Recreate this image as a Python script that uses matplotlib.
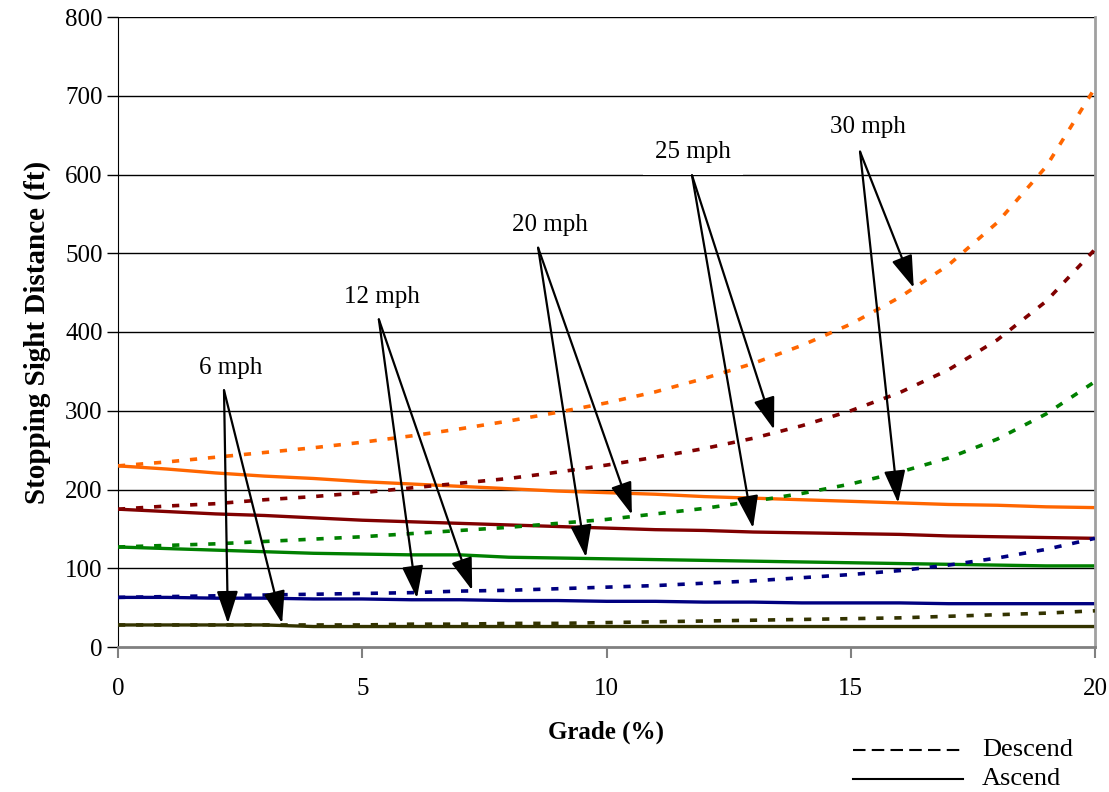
import matplotlib
matplotlib.use('Agg')
import matplotlib.pyplot as plt
from matplotlib.lines import Line2D

plt.rcParams['font.family'] = ['Liberation Serif', 'DejaVu Serif']

# grade (%) and stopping sight distance (ft) for each design speed
grade = list(range(0, 21))

desc_30 = [230, 235, 241, 247, 253, 260, 268, 277, 287, 298, 310, 324, 341, 360, 383, 410, 444, 485, 539, 610, 710]
asc_30 = [230, 226, 221, 217, 214, 210, 207, 204, 201, 198, 196, 194, 191, 189, 187, 185, 183, 181, 180, 178, 177]
desc_25 = [175, 179, 182, 187, 191, 196, 202, 208, 214, 222, 231, 241, 252, 265, 281, 300, 323, 352, 390, 439, 505]
asc_25 = [175, 172, 169, 167, 164, 161, 159, 157, 155, 153, 151, 149, 148, 146, 145, 144, 143, 141, 140, 139, 138]
desc_20 = [127, 129, 131, 134, 137, 140, 144, 148, 152, 157, 162, 169, 176, 185, 195, 207, 222, 240, 264, 296, 337]
asc_20 = [127, 125, 123, 121, 119, 118, 117, 117, 114, 113, 112, 111, 110, 109, 108, 107, 106, 105, 104, 103, 103]
desc_12 = [63, 64, 65, 66, 67, 68, 69, 71, 72, 74, 76, 78, 81, 84, 88, 92, 97, 104, 113, 124, 138]
asc_12 = [63, 63, 62, 62, 61, 61, 60, 60, 59, 59, 58, 58, 57, 57, 56, 56, 56, 55, 55, 55, 55]
desc_6 = [28, 28, 28, 28, 28, 28, 29, 29, 30, 30, 31, 32, 33, 34, 35, 36, 37, 39, 41, 43, 46]
asc_6 = [28, 28, 28, 28, 26, 26, 26, 26, 26, 26, 26, 26, 26, 26, 26, 26, 26, 26, 26, 26, 26]

speeds = ['6 mph', '12 mph', '20 mph', '25 mph', '30 mph']
descend = [desc_6, desc_12, desc_20, desc_25, desc_30]
ascend = [asc_6, asc_12, asc_20, asc_25, asc_30]
colors = ['#333300', '#000080', '#008000', '#800000', '#FF6600']

# label position and the two arrow tips for each speed (data coords)
label_pos = [(2.31, 354), (5.40, 444), (8.84, 536), (11.77, 629), (15.35, 660)]
arrow_start = [(2.17, 326), (5.34, 416), (8.60, 507), (11.75, 599), (15.19, 629)]
arrow_tips = [
    [(2.25, 30), (3.36, 30)],
    [(6.12, 62), (7.25, 72)],
    [(9.58, 114), (10.52, 168)],
    [(13.0, 151), (13.43, 276)],
    [(15.97, 183), (16.29, 456)],
]

fig = plt.figure(figsize=(11.09, 7.92), dpi=100)
ax = fig.add_axes([118 / 1109, 1 - 647 / 792, (1095 - 118) / 1109, (647 - 17) / 792])

for y in range(100, 900, 100):
    ax.axhline(y, color='black', lw=1.0, zorder=1)

for d, a, c in zip(descend, ascend, colors):
    ax.plot(grade, a, color=c, lw=2.4, zorder=2)
for d, a, c in zip(descend, ascend, colors):
    ax.plot(grade, d, color=c, lw=2.6, dashes=(2.0, 3.0), dash_capstyle='butt', zorder=3)

for name, lp, st, tips in zip(speeds, label_pos, arrow_start, arrow_tips):
    ax.text(lp[0], lp[1], name, ha='center', va='center', fontsize=18, zorder=4,
            bbox=dict(boxstyle='square,pad=0.5', fc='white', ec='none'))
    for tip in tips:
        ax.annotate('', xy=tip, xytext=st, zorder=5,
                    arrowprops=dict(arrowstyle='-|>,head_length=1.0,head_width=0.33',
                                    mutation_scale=20, color='black', lw=1.6,
                                    shrinkA=0, shrinkB=0))

ax.set_xlim(0, 20)
ax.set_ylim(0, 800)
ax.set_xticks([0, 5, 10, 15, 20])
ax.set_yticks(range(0, 900, 100))

ax.spines['top'].set_visible(False)
ax.spines['left'].set_color('black')
ax.spines['bottom'].set_color('#808080')
ax.spines['bottom'].set_linewidth(2)
ax.spines['right'].set_color('#a0a0a0')
ax.spines['right'].set_linewidth(2)
ax.tick_params(axis='x', direction='out', length=8, width=1.5, color='#808080', pad=14, labelsize=18)
ax.tick_params(axis='y', direction='out', length=8, width=1, color='black', pad=3, labelsize=18)

ax.set_xlabel('Grade (%)', fontsize=18, fontweight='bold', labelpad=15)
ax.set_ylabel('Stopping Sight Distance (ft)', fontsize=21, fontweight='bold', labelpad=10)

# legend below the plot area
fig.add_artist(Line2D([853 / 1109, 963 / 1109], [1 - 750 / 792] * 2, color='black', lw=1.5,
                      dashes=(6, 3)))
fig.add_artist(Line2D([853 / 1109, 963 / 1109], [1 - 779 / 792] * 2, color='black', lw=1.5))
fig.text(982 / 1109, 1 - 750 / 792, 'Descend', fontsize=19, va='center')
fig.text(982 / 1109, 1 - 779 / 792, 'Ascend', fontsize=19, va='center')

fig.savefig('out.png', dpi=100)
